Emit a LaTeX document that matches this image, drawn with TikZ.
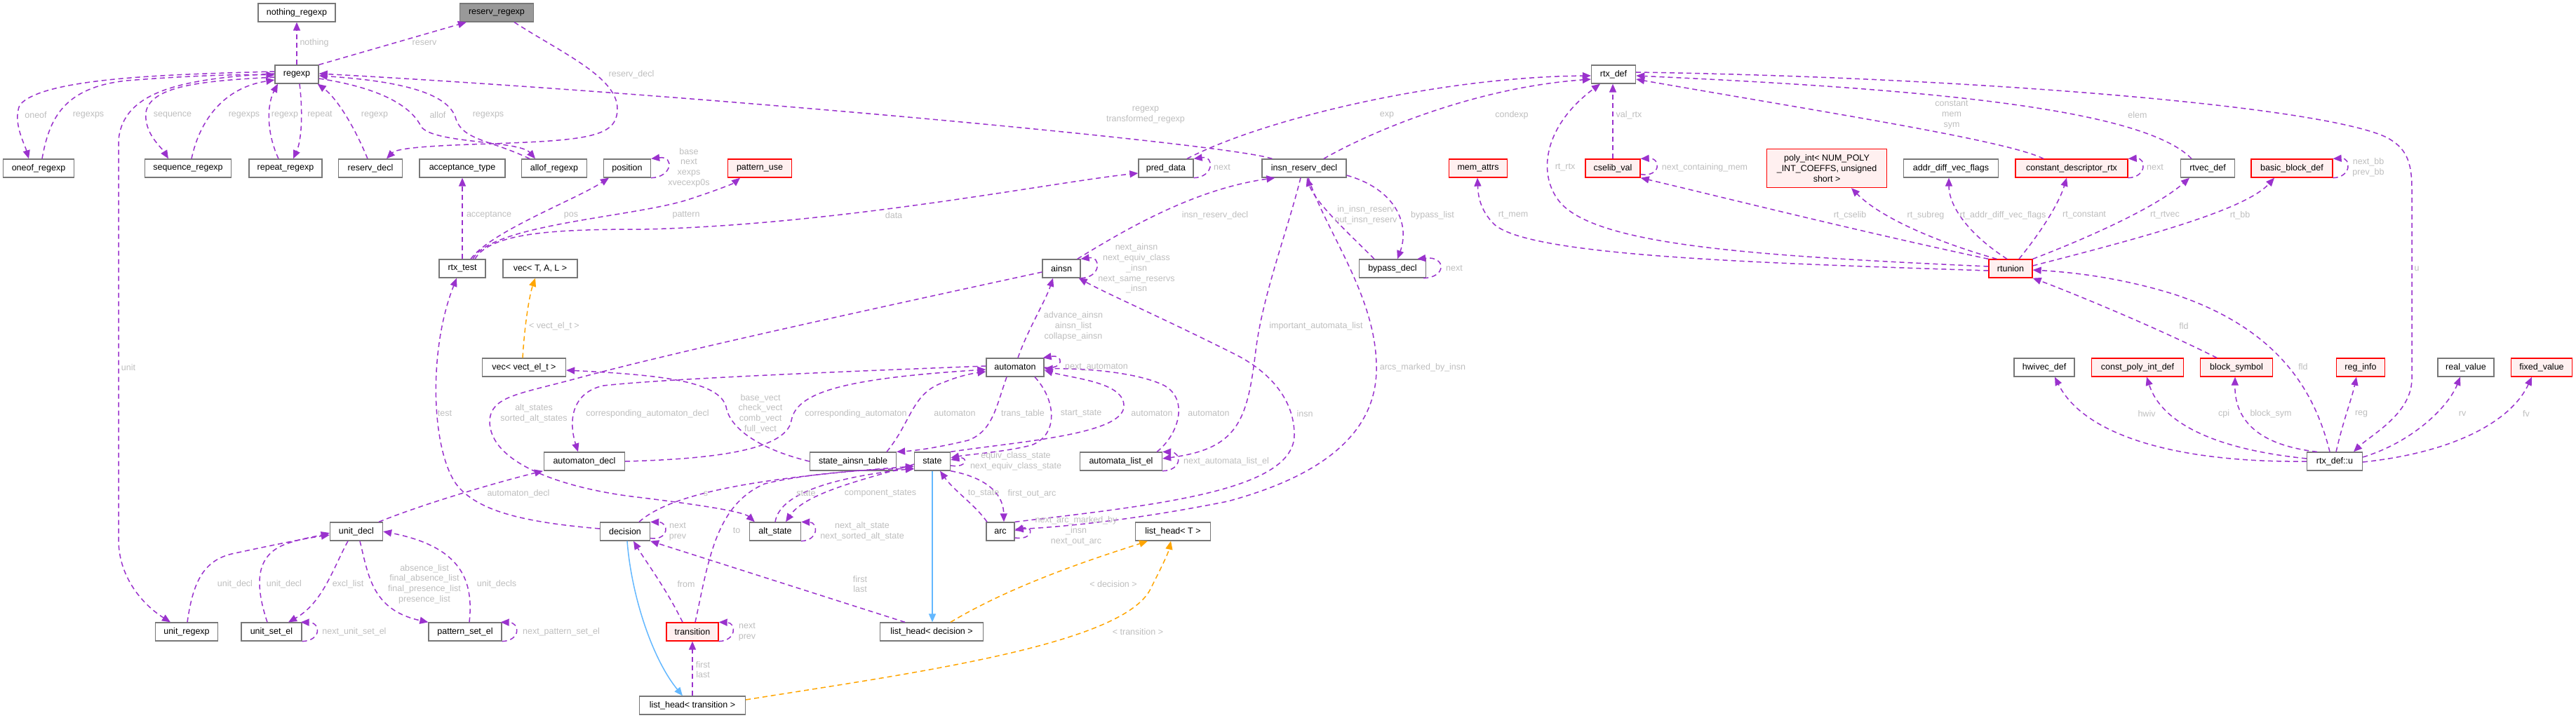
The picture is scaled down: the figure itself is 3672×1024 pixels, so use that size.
\documentclass[tikz,border=0pt]{standalone}
\usepackage{fontspec}
\setmainfont{Liberation Sans}
\usetikzlibrary{arrows.meta}
\definecolor{depc}{HTML}{9A32CD}
\definecolor{tmplc}{HTML}{FFA500}
\definecolor{inhc}{HTML}{63B8FF}
\definecolor{lblc}{HTML}{BEBEBE}
\definecolor{bordc}{HTML}{777777}
\definecolor{redfill}{HTML}{FFF0F0}
\definecolor{mainfill}{HTML}{999999}
\begin{document}
\begin{tikzpicture}[x=1pt,y=-1pt,font=\fontsize{12.5pt}{14.8pt}\selectfont,
  box/.style={draw=bordc,line width=1.3pt,fill=white,minimum height=26pt,inner sep=0pt,anchor=center,align=center},
  rbox/.style={box,draw=red,fill=redfill},
  gbox/.style={box,fill=mainfill},
  dep/.style={draw=depc,line width=1.5pt,dash pattern=on 7pt off 5pt,-{Triangle[length=12pt,width=10pt]}},
  tmp/.style={dep,draw=tmplc},
  inhs/.style={draw=inhc,line width=1.5pt,-{Triangle[length=12pt,width=10pt]}},
  lbl/.style={text=lblc,inner sep=0pt,align=center}]
\fill[white] (0,0) rectangle (3672,1024);
\path[use as bounding box] (0,0) rectangle (3672,1024);
% nodes
\node[gbox,minimum width=105pt] (reserv_regexp) at (708,18) {reserv\_regexp};
\node[box,minimum width=110pt] (nothing_regexp) at (423,18) {nothing\_regexp};
\node[box,minimum width=62pt] (regexp) at (423,106) {regexp};
\node[box,minimum width=101pt] (oneof_regexp) at (55,240) {oneof\_regexp};
\node[box,minimum width=123pt] (sequence_regexp) at (268,240) {sequence\_regexp};
\node[box,minimum width=104pt] (repeat_regexp) at (407,240) {repeat\_regexp};
\node[box,minimum width=91pt] (reserv_decl) at (528,240) {reserv\_decl};
\node[box,minimum width=122pt] (acceptance_type) at (659,240) {acceptance\_type};
\node[box,minimum width=93pt] (allof_regexp) at (790,240) {allof\_regexp};
\node[box,minimum width=67pt] (position) at (894,240) {position};
\node[rbox,minimum width=91pt] (pattern_use) at (1083,240) {pattern\_use};
\node[box,minimum width=78pt] (pred_data) at (1662,240) {pred\_data};
\node[box,minimum width=120pt] (insn_reserv_decl) at (1859,240) {insn\_reserv\_decl};
\node[box,minimum width=63pt] (rtx_def) at (2300,106) {rtx\_def};
\node[rbox,minimum width=83pt] (mem_attrs) at (2107,240) {mem\_attrs};
\node[rbox,minimum width=78pt] (cselib_val) at (2299,240) {cselib\_val};
\node[rbox,minimum width=171pt,minimum height=55pt] (poly_int) at (2604,240) {poly\_int< NUM\_POLY\\\_INT\_COEFFS, unsigned\\short >};
\node[box,minimum width=135pt] (addr_diff) at (2781,240) {addr\_diff\_vec\_flags};
\node[rbox,minimum width=160pt] (const_desc) at (2953,240) {constant\_descriptor\_rtx};
\node[box,minimum width=77pt] (rtvec_def) at (3147,240) {rtvec\_def};
\node[rbox,minimum width=116pt] (bb_def) at (3267,240) {basic\_block\_def};
\node[box,minimum width=66pt] (rtx_test) at (659,383) {rtx\_test};
\node[box,minimum width=106pt] (vec_tal) at (770,383) {vec< T, A, L >};
\node[box,minimum width=54pt] (ainsn) at (1513,383) {ainsn};
\node[box,minimum width=95pt] (bypass_decl) at (1985,383) {bypass\_decl};
\node[rbox,minimum width=62pt] (rtunion) at (2866,383) {rtunion};
\node[box,minimum width=119pt] (vec_vect) at (747,524) {vec< vect\_el\_t >};
\node[box,minimum width=82pt] (automaton) at (1447,524) {automaton};
\node[box,minimum width=86pt] (hwivec_def) at (2914,524) {hwivec\_def};
\node[rbox,minimum width=131pt] (cpi_def) at (3047,524) {const\_poly\_int\_def};
\node[rbox,minimum width=103pt] (block_symbol) at (3188,524) {block\_symbol};
\node[rbox,minimum width=69pt] (reg_info) at (3365,524) {reg\_info};
\node[box,minimum width=80pt] (real_value) at (3515,524) {real\_value};
\node[rbox,minimum width=87pt] (fixed_value) at (3623,524) {fixed\_value};
\node[box,minimum width=115pt] (automaton_decl) at (833,658) {automaton\_decl};
\node[box,minimum width=123pt] (sat) at (1216,658) {state\_ainsn\_table};
\node[box,minimum width=51pt] (state) at (1329,658) {state};
\node[box,minimum width=117pt] (ale) at (1598,658) {automata\_list\_el};
\node[box,minimum width=79pt] (rtx_u) at (3328,658) {rtx\_def::u};
\node[box,minimum width=75pt] (unit_decl) at (508,758) {unit\_decl};
\node[box,minimum width=71pt] (decision) at (891,758) {decision};
\node[box,minimum width=73pt] (alt_state) at (1105,758) {alt\_state};
\node[box,minimum width=40pt] (arc) at (1426,758) {arc};
\node[box,minimum width=107pt] (lh_t) at (1672,758) {list\_head< T >};
\node[box,minimum width=89pt] (unit_regexp) at (266,901) {unit\_regexp};
\node[box,minimum width=86pt] (unit_set_el) at (387,901) {unit\_set\_el};
\node[box,minimum width=104pt] (pattern_set_el) at (663,901) {pattern\_set\_el};
\node[rbox,minimum width=74pt] (transition) at (987,901) {transition};
\node[box,minimum width=147pt] (lh_dec) at (1328,901) {list\_head< decision >};
\node[box,minimum width=151pt] (lh_tr) at (987,1006) {list\_head< transition >};
% edges: regexp cluster
\draw[dep] (regexp.north east) -- ([xshift=10pt]reserv_regexp.south west);
\draw[dep] (regexp.north) -- (nothing_regexp.south);
\draw[dep] ([xshift=25pt]reserv_regexp.south) .. controls (800,75) and (880,110) .. (880,155) .. controls (880,195) and (840,200) .. (700,205) .. controls (600,208) and (565,212) .. ([xshift=23pt]reserv_decl.north);
\draw[dep] ([yshift=4pt]regexp.west) .. controls (250,106) and (60,110) .. (28,150) .. controls (18,175) and (35,205) .. ([xshift=-14pt]oneof_regexp.north);
\draw[dep] ([xshift=5pt]oneof_regexp.north) .. controls (70,170) and (90,125) .. (180,115) .. controls (280,107) and (350,106) .. ([yshift=-1pt]regexp.west);
\draw[dep] ([yshift=-4pt]regexp.west) .. controls (300,115) and (215,120) .. (208,160) .. controls (205,190) and (230,210) .. ([xshift=-28pt]sequence_regexp.north);
\draw[dep] ([xshift=5pt]sequence_regexp.north) .. controls (285,170) and (320,125) .. ([yshift=-8pt]regexp.west);
\draw[dep] ([xshift=-10pt]repeat_regexp.north) .. controls (380,190) and (380,150) .. ([xshift=-27pt]regexp.south);
\draw[dep] ([xshift=4pt]regexp.south) .. controls (432,160) and (430,200) .. ([xshift=11pt]repeat_regexp.north);
\draw[dep] ([xshift=-4pt]reserv_decl.north) .. controls (505,180) and (480,140) .. ([xshift=-2pt]regexp.south east);
\draw[dep] ([yshift=-6pt]regexp.east) .. controls (540,125) and (585,150) .. (600,180) .. controls (615,205) and (740,200) .. ([xshift=-27pt]allof_regexp.north);
\draw[dep] ([xshift=-35pt]allof_regexp.north) .. controls (700,200) and (660,200) .. (650,170) .. controls (640,130) and (560,115) .. ([yshift=-2pt]regexp.east);
\draw[dep] ([xshift=15pt]insn_reserv_decl.north west) .. controls (1750,205) and (1000,135) .. ([yshift=1pt]regexp.east);
\draw[dep] ([yshift=1pt]regexp.west) .. controls (260,112) and (175,130) .. (169,200) -- (169,770) .. controls (169,820) and (200,860) .. ([xshift=-23pt]unit_regexp.north);
% rtx_test
\draw[dep] (rtx_test.north) -- (acceptance_type.south);
\draw[dep] ([xshift=12pt]rtx_test.north) .. controls (700,330) and (820,285) .. ([xshift=-26pt]position.south);
\draw[dep] (position.south east) .. controls (958,253) and (962,222) .. (position.north east);
\draw[dep] ([xshift=15pt]rtx_test.north) .. controls (700,320) and (900,310) .. (980,285) .. controls (1020,272) and (1045,262) .. ([xshift=-28pt]pattern_use.south);
\draw[dep] ([xshift=18pt]rtx_test.north) .. controls (700,330) and (800,327) .. (920,327) .. controls (1200,320) and (1500,260) .. ([yshift=-7pt]pred_data.west);
\draw[dep] (pred_data.south east) .. controls (1730,253) and (1732,222) .. (pred_data.north east);
\draw[dep] ([xshift=30pt]pred_data.north) .. controls (1800,170) and (2050,110) .. ([yshift=-2pt]rtx_def.west);
\draw[dep] ([xshift=28pt]insn_reserv_decl.north) .. controls (1950,190) and (2100,125) .. ([yshift=-7pt]rtx_def.west);
\draw[dep] ([xshift=-26pt]bypass_decl.north) .. controls (1930,340) and (1875,290) .. ([xshift=4pt]insn_reserv_decl.south);
\draw[dep] ([yshift=-10pt]insn_reserv_decl.east) .. controls (1990,270) and (2010,320) .. ([xshift=7pt]bypass_decl.north);
\draw[dep] ([xshift=-4pt]bypass_decl.south east) .. controls (2062,396) and (2062,365) .. ([xshift=-13pt]bypass_decl.north east);
\draw[dep] ([xshift=-5pt]ainsn.north east) .. controls (1600,330) and (1700,270) .. ([xshift=19pt]insn_reserv_decl.south west);
\draw[dep] (ainsn.south east) .. controls (1570,396) and (1570,365) .. (ainsn.north east);
\draw[dep] ([xshift=4pt]automaton.north) .. controls (1465,470) and (1490,430) .. ([xshift=-12pt]ainsn.south);
\draw[dep] ([xshift=-5pt]insn_reserv_decl.south) .. controls (1835,330) and (1800,420) .. (1790,500) .. controls (1778,600) and (1765,640) .. ([yshift=4pt]ale.east);
\draw[dep] ([xshift=6pt]insn_reserv_decl.south) .. controls (1890,330) and (1960,420) .. (1962,520) .. controls (1965,620) and (1880,680) .. (1750,715) .. controls (1600,745) and (1500,752) .. ([yshift=3pt]arc.east);
\draw[dep] (arc.north east) .. controls (1650,720) and (1845,700) .. (1845,620) .. controls (1845,570) and (1810,530) .. (1760,505) .. controls (1650,450) and (1580,420) .. ([xshift=-3pt]ainsn.south east);
\draw[dep] ([yshift=-5pt]ainsn.west) .. controls (1200,450) and (950,505) .. (821,540) .. controls (740,562) and (700,565) .. (698,600) .. controls (697,660) and (800,695) .. (900,708) .. controls (1000,720) and (1060,730) .. ([xshift=8pt]alt_state.north west);
\draw[dep] (sat.west) .. controls (1080,640) and (1040,610) .. (1035,580) .. controls (1025,545) and (950,535) .. ([yshift=-4pt]vec_vect.east);
\draw[dep] ([yshift=2pt]automaton.west) .. controls (1200,530) and (950,540) .. (860,550) .. controls (815,560) and (810,600) .. ([xshift=-9pt]automaton_decl.north);
\draw[dep] (automaton_decl.east) .. controls (1000,655) and (1120,645) .. (1128,600) .. controls (1135,560) and (1200,540) .. ([yshift=-3pt]automaton.west);
\draw[dep] (automaton.east) .. controls (1517,528) and (1517,505) .. ([xshift=-2pt]automaton.north east);
\draw[dep] ([xshift=48pt]sat.north) .. controls (1300,600) and (1300,560) .. (1346,545) .. controls (1370,535) and (1390,532) .. ([yshift=-6pt]automaton.west);
\draw[dep] ([xshift=-12pt]automaton.south) .. controls (1420,580) and (1415,615) .. (1380,628) .. controls (1330,640) and (1300,643) .. (sat.north east);
\draw[dep] ([xshift=28pt]automaton.south) .. controls (1505,570) and (1510,620) .. (1470,635) .. controls (1430,645) and (1380,648) .. ([yshift=5pt]state.east);
\draw[dep] (state.north east) .. controls (1450,630) and (1600,620) .. (1602,580) .. controls (1604,545) and (1530,540) .. ([yshift=-4pt]automaton.east);
\draw[dep] ([xshift=-8pt]ale.north east) .. controls (1680,620) and (1695,570) .. (1660,550) .. controls (1620,530) and (1540,525) .. ([yshift=-2pt]automaton.east);
\draw[dep] (ale.south east) .. controls (1685,671) and (1685,645) .. (ale.north east);
\draw[dep] ([yshift=-6pt]state.east) .. controls (1380,668) and (1380,650) .. ([yshift=2pt]state.east);
\draw[dep] ([xshift=-19pt]arc.north) .. controls (1390,720) and (1360,700) .. ([xshift=11pt]state.south);
\draw[dep] (state.south east) .. controls (1400,680) and (1430,700) .. ([xshift=5pt]arc.north);
\draw[dep] ([yshift=-9pt]arc.east) .. controls (1474,771) and (1474,748) .. ([yshift=1pt]arc.east);
\draw[dep] (alt_state.north) .. controls (1112,700) and (1200,680) .. ([yshift=-10pt]state.west);
\draw[dep] ([yshift=-4pt]state.west) .. controls (1250,680) and (1150,700) .. ([xshift=15pt]alt_state.north);
\draw[dep] (alt_state.south east) .. controls (1167,771) and (1167,745) .. (alt_state.north east);
\draw[dep] ([xshift=20pt]decision.north) .. controls (960,700) and (1100,680) .. ([yshift=-7pt]state.west);
\draw[dep] ([xshift=4pt]transition.north) .. controls (1010,800) and (1020,720) .. (1090,690) .. controls (1150,675) and (1250,668) .. ([yshift=-11pt]state.west);
\draw[dep] ([xshift=-14pt]transition.north) .. controls (950,840) and (920,800) .. ([xshift=12pt]decision.south);
\draw[dep] ([yshift=4pt]decision.south east) .. controls (954,771) and (954,745) .. (decision.north east);
\draw[dep] ([xshift=-38pt]lh_dec.north) -- (decision.south east);
\draw[dep] (lh_tr.north) -- (transition.south);
\draw[dep] (transition.south east) .. controls (1050,914) and (1050,888) .. (transition.north east);
\draw[dep] ([yshift=4pt]decision.west) .. controls (750,745) and (680,730) .. (650,690) .. controls (615,640) and (610,500) .. ([xshift=-8pt]rtx_test.south);
\draw[dep] ([xshift=32pt]unit_decl.north) .. controls (600,720) and (700,690) .. ([xshift=-59pt]automaton_decl.south);
\draw[dep] ([xshift=1pt]unit_regexp.north) .. controls (275,830) and (290,800) .. (330,790) .. controls (400,775) and (440,767) .. ([yshift=-5pt]unit_decl.west);
\draw[dep] ([xshift=-6pt]unit_set_el.north) .. controls (362,830) and (365,790) .. (410,775) .. controls (430,768) and (455,764) .. ([yshift=-2pt]unit_decl.west);
\draw[dep] ([xshift=-12pt]unit_decl.south) .. controls (475,810) and (460,860) .. ([xshift=24pt]unit_set_el.north);
\draw[dep] ([xshift=5pt]unit_decl.south) .. controls (525,820) and (530,870) .. (pattern_set_el.north west);
\draw[dep] ([xshift=6pt]pattern_set_el.north) .. controls (675,830) and (660,780) .. (unit_decl.east);
\draw[dep] (unit_set_el.south east) .. controls (458,914) and (458,888) .. ([xshift=-2pt]unit_set_el.north east);
\draw[dep] (pattern_set_el.south east) .. controls (742,914) and (742,888) .. ([xshift=-2pt]pattern_set_el.north east);
% rtx cluster
\draw[dep] ([yshift=3pt]rtunion.west) .. controls (2500,365) and (2280,350) .. (2225,290) .. controls (2190,250) and (2200,180) .. ([xshift=-19pt]rtx_def.south);
\draw[dep] (cselib_val.north) -- ([xshift=-1pt]rtx_def.south);
\draw[dep] ([yshift=5pt]cselib_val.south east) .. controls (2368,253) and (2368,225) .. (cselib_val.north east);
\draw[dep] ([xshift=-40pt]const_desc.north) .. controls (2860,200) and (2600,160) .. ([yshift=-7pt]rtx_def.east);
\draw[dep] ([xshift=-23pt]rtvec_def.north) .. controls (3050,150) and (2700,125) .. ([yshift=-2pt]rtx_def.east);
\draw[dep] ([yshift=3pt]rtx_def.east) .. controls (2800,110) and (3300,150) .. (3400,195) .. controls (3430,210) and (3438,230) .. (3438,270) -- (3438,540) .. controls (3438,590) and (3380,620) .. ([xshift=27pt]rtx_u.north);
\draw[dep] ([yshift=-3pt]rtunion.west) .. controls (2500,375) and (2180,365) .. (2130,320) .. controls (2110,300) and (2107,280) .. ([xshift=-1pt]mem_attrs.south);
\draw[dep] (rtunion.north west) .. controls (2650,330) and (2450,280) .. (cselib_val.south east);
\draw[dep] ([xshift=12pt]rtunion.north west) .. controls (2760,345) and (2680,310) .. ([xshift=35pt]poly_int.south);
\draw[dep] ([xshift=-5pt]rtunion.north) .. controls (2800,330) and (2778,290) .. ([xshift=-3pt]addr_diff.south);
\draw[dep] ([xshift=12pt]rtunion.north) .. controls (2910,330) and (2935,290) .. ([xshift=-7pt]const_desc.south);
\draw[dep] (rtunion.north east) .. controls (3000,330) and (3080,290) .. ([xshift=-26pt]rtvec_def.south);
\draw[dep] ([yshift=4pt]rtunion.east) .. controls (3050,340) and (3200,300) .. ([xshift=-25pt]bb_def.south);
\draw[dep] (const_desc.south east) .. controls (3060,253) and (3060,225) .. (const_desc.north east);
\draw[dep] (bb_def.south east) .. controls (3352,253) and (3352,225) .. (bb_def.north east);
\draw[dep] ([xshift=-28pt]block_symbol.north) .. controls (3080,470) and (2960,420) .. (rtunion.south east);
\draw[dep] ([xshift=-7pt]rtx_u.north) .. controls (3300,560) and (3250,470) .. (3100,420) .. controls (3020,395) and (2950,388) .. ([yshift=-2pt]rtunion.east);
\draw[dep] (rtx_u.west) .. controls (3100,660) and (2970,620) .. ([xshift=15pt]hwivec_def.south);
\draw[dep] ([yshift=4pt]rtx_u.west) .. controls (3150,640) and (3080,600) .. ([xshift=13pt]cpi_def.south);
\draw[dep] ([xshift=-25pt]rtx_u.north) .. controls (3220,635) and (3185,600) .. ([xshift=-2pt]block_symbol.south);
\draw[dep] ([xshift=2pt]rtx_u.north) .. controls (3340,600) and (3352,570) .. ([xshift=-6pt]reg_info.south);
\draw[dep] ([yshift=6pt]rtx_u.east) .. controls (3440,630) and (3490,580) .. ([xshift=-8pt]real_value.south);
\draw[dep] ([yshift=-1pt]rtx_u.east) .. controls (3500,645) and (3580,600) .. ([xshift=-14pt]fixed_value.south);
% templates and inheritance
\draw[tmp] ([xshift=-2pt]vec_vect.north) .. controls (748,460) and (755,420) .. ([xshift=-7pt]vec_tal.south);
\draw[tmp] ([xshift=27pt]lh_dec.north) .. controls (1450,830) and (1580,790) .. ([xshift=-36pt]lh_t.south);
\draw[tmp] ([yshift=8pt]lh_tr.east) .. controls (1300,960) and (1600,920) .. (1640,840) .. controls (1655,810) and (1665,790) .. ([xshift=-3pt]lh_t.south);
\draw[inhs] (state.south) -- ([xshift=1pt]lh_dec.north);
\draw[inhs] ([xshift=3pt]decision.south) .. controls (900,850) and (930,940) .. ([xshift=-14pt]lh_tr.north);
% labels
\node[lbl] (l1) at (605,61) {reserv};
\node[lbl] (l2) at (448,61) {nothing};
\node[lbl] (l3) at (900,106) {reserv\_decl};
\node[lbl] (l4) at (51,164) {oneof};
\node[lbl] (l5) at (126,164) {regexps};
\node[lbl] (l6) at (246,164) {sequence};
\node[lbl] (l7) at (348,164) {regexps};
\node[lbl] (l8) at (406,164) {regexp};
\node[lbl] (l9) at (456,164) {repeat};
\node[lbl] (l10) at (534,164) {regexp};
\node[lbl] (l11) at (624,164) {allof};
\node[lbl] (l12) at (696,164) {regexps};
\node[lbl] (l13) at (1633,164) {regexp\\transformed\_regexp};
\node[lbl] (l14) at (183,524) {unit};
\node[lbl] (l15) at (697,307) {acceptance};
\node[lbl] (l16) at (814,307) {pos};
\node[lbl] (l17) at (982,239) {base\\next\\xexps\\xvecexp0s};
\node[lbl] (l18) at (978,307) {pattern};
\node[lbl] (l19) at (1274,307) {data};
\node[lbl] (l20) at (1742,239) {next};
\node[lbl] (l21) at (1977,164) {exp};
\node[lbl] (l22) at (2155,164) {condexp};
\node[lbl] (l23) at (1947,307) {in\_insn\_reserv\\out\_insn\_reserv};
\node[lbl] (l24) at (2042,307) {bypass\_list};
\node[lbl] (l25) at (2073,383) {next};
\node[lbl] (l26) at (1732,307) {insn\_reserv\_decl};
\node[lbl] (l27) at (1620,383) {next\_ainsn\\next\_equiv\_class\\\_insn\\next\_same\_reservs\\\_insn};
\node[lbl] (l28) at (1530,465) {advance\_ainsn\\ainsn\_list\\collapse\_ainsn};
\node[lbl] (l29) at (1876,465) {important\_automata\_list};
\node[lbl] (l30) at (2028,524) {arcs\_marked\_by\_insn};
\node[lbl] (l31) at (1860,590) {insn};
\node[lbl] (l32) at (761,590) {alt\_states\\sorted\_alt\_states};
\node[lbl] (l33) at (1084,590) {base\_vect\\check\_vect\\comb\_vect\\full\_vect};
\node[lbl] (l34) at (923,590) {corresponding\_automaton\_decl};
\node[lbl] (l35) at (1220,590) {corresponding\_automaton};
\node[lbl] (l36) at (1563,524) {next\_automaton};
\node[lbl] (l37) at (1361,590) {automaton};
\node[lbl] (l38) at (1458,590) {trans\_table};
\node[lbl] (l39) at (1541,590) {start\_state};
\node[lbl] (l40) at (1642,590) {automaton};
\node[lbl] (l41) at (1723,590) {automaton};
\node[lbl] (l42) at (1748,658) {next\_automata\_list\_el};
\node[lbl] (l43) at (1448,658) {equiv\_class\_state\\next\_equiv\_class\_state};
\node[lbl] (l44) at (1402,704) {to\_state};
\node[lbl] (l45) at (1471,704) {first\_out\_arc};
\node[lbl] (l46) at (1534,757) {next\_arc\_marked\_by\\\_insn\\next\_out\_arc};
\node[lbl] (l47) at (1149,704) {state};
\node[lbl] (l48) at (1255,704) {component\_states};
\node[lbl] (l49) at (1229,758) {next\_alt\_state\\next\_sorted\_alt\_state};
\node[lbl] (l50) at (1006,704) {s};
\node[lbl] (l51) at (1050,757) {to};
\node[lbl] (l52) at (978,833) {from};
\node[lbl] (l53) at (966,758) {next\\prev};
\node[lbl] (l54) at (1226,833) {first\\last};
\node[lbl] (l55) at (1002,955) {first\\last};
\node[lbl] (l56) at (1065,901) {next\\prev};
\node[lbl] (l57) at (634,590) {test};
\node[lbl] (l58) at (739,704) {automaton\_decl};
\node[lbl] (l59) at (335,833) {unit\_decl};
\node[lbl] (l60) at (405,833) {unit\_decl};
\node[lbl] (l61) at (496,833) {excl\_list};
\node[lbl] (l62) at (605,833) {absence\_list\\final\_absence\_list\\final\_presence\_list\\presence\_list};
\node[lbl] (l63) at (708,833) {unit\_decls};
\node[lbl] (l64) at (505,901) {next\_unit\_set\_el};
\node[lbl] (l65) at (800,901) {next\_pattern\_set\_el};
\node[lbl] (l66) at (2231,239) {rt\_rtx};
\node[lbl] (l67) at (2322,164) {val\_rtx};
\node[lbl] (l68) at (2430,239) {next\_containing\_mem};
\node[lbl] (l69) at (2782,164) {constant\\mem\\sym};
\node[lbl] (l70) at (3047,164) {elem};
\node[lbl] (l71) at (3445,383) {u};
\node[lbl] (l72) at (2157,307) {rt\_mem};
\node[lbl] (l73) at (2637,307) {rt\_cselib};
\node[lbl] (l74) at (2745,307) {rt\_subreg};
\node[lbl] (l75) at (2855,307) {rt\_addr\_diff\_vec\_flags};
\node[lbl] (l76) at (2971,307) {rt\_constant};
\node[lbl] (l77) at (3086,307) {rt\_rtvec};
\node[lbl] (l78) at (3193,307) {rt\_bb};
\node[lbl] (l79) at (3072,239) {next};
\node[lbl] (l80) at (3376,239) {next\_bb\\prev\_bb};
\node[lbl] (l81) at (3113,465) {fld};
\node[lbl] (l82) at (3283,523) {fld};
\node[lbl] (l83) at (3060,590) {hwiv};
\node[lbl] (l84) at (3170,590) {cpi};
\node[lbl] (l85) at (3237,590) {block\_sym};
\node[lbl] (l86) at (3366,590) {reg};
\node[lbl] (l87) at (3510,590) {rv};
\node[lbl] (l88) at (3601,590) {fv};
\node[lbl] (l89) at (790,465) {< vect\_el\_t >};
\node[lbl] (l90) at (1587,833) {< decision >};
\node[lbl] (l91) at (1622,901) {< transition >};
\end{tikzpicture}
\end{document}
